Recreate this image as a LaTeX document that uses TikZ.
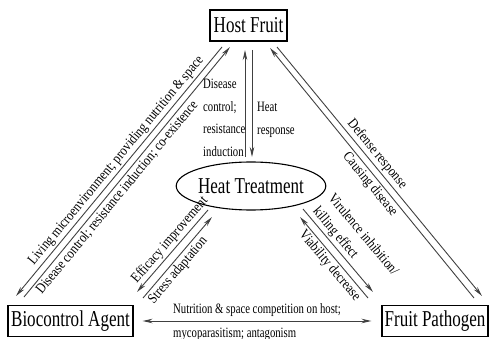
\documentclass[tikz,border=0pt]{standalone}
\usepackage{fontspec}
\setmainfont{Liberation Serif}[FakeStretch=0.75]
\newfontfamily\diagfont{Liberation Serif}[FakeStretch=0.85]
\usetikzlibrary{arrows.meta,shapes.geometric}

\tikzset{
  bigbox/.style={draw, line width=1.1pt, inner sep=0pt, minimum width=#1,
    minimum height=31pt, font=\fontsize{22.7}{27}\selectfont},
  relation/.style={draw=black!75, line width=0.9pt,
    -{Stealth[length=10pt,width=4.5pt]}},
  lbl/.style={font=\diagfont\fontsize{14.3}{20}\selectfont, sloped, inner sep=2pt},
  txt/.style={font=\fontsize{14.3}{22.5}\selectfont, inner sep=0pt}
}

\begin{document}
\begin{tikzpicture}[x=1pt,y=-1pt]
  \useasboundingbox (0,0) rectangle (490,339);

  \node [bigbox=77pt] (host) at (248.5,25.5) {Host Fruit};
  \node [draw, ellipse, line width=1.1pt, minimum width=138pt, minimum height=48pt,
    inner sep=0pt, font=\fontsize{22.7}{27}\selectfont] (heat) at (251,186) {Heat Treatment};
  \node [bigbox=125pt] (bio) at (70.5,321) {Biocontrol Agent};
  \node [bigbox=106pt] (path) at (435,321) {Fruit Pathogen};

  \coordinate (hf-l1) at (222,47);  \coordinate (bc-l1) at (16,296);
  \coordinate (bc-l2) at (24,297);  \coordinate (hf-l2) at (230,47);
  \coordinate (hf-r1) at (270,48);  \coordinate (fp-r1) at (474,298);
  \coordinate (hf-r2) at (277,47);  \coordinate (fp-r2) at (482,296);
  \coordinate (hf-c1) at (245,50);  \coordinate (ht-c1) at (245,157);
  \coordinate (hf-c2) at (252,50);  \coordinate (ht-c2) at (252,157);
  \coordinate (ht-b1) at (208,210); \coordinate (bc-b1) at (137,292);
  \coordinate (bc-b2) at (143,298); \coordinate (ht-b2) at (212,217);
  \coordinate (ht-p1) at (300,217); \coordinate (fp-p1) at (368,298);
  \coordinate (ht-p2) at (303,209); \coordinate (fp-p2) at (373,292);

  \draw [relation] (hf-l1) -- node [lbl, above, pos=0.48]
    {Living microenvironment; providing nutrition \& space} (bc-l1);
  \draw [relation] (bc-l2) -- node [lbl, below, pos=0.42]
    {Disease control; resistance induction; co-existence} (hf-l2);

  \draw [relation] (fp-r1) -- node [lbl, below, pos=0.476] {Causing disease} (hf-r1);
  \draw [relation] (hf-r2) -- node [lbl, above, pos=0.454] {Defense response} (fp-r2);

  \draw [relation] (ht-c1) -- (hf-c1);
  \draw [relation] (hf-c2) -- (ht-c2);

  \draw [relation] (ht-b1) -- node [lbl, above, pos=0.44] {Efficacy improvement} (bc-b1);
  \draw [relation] (bc-b2) -- node [lbl, below, pos=0.41] {Stress adaptation} (ht-b2);

  \draw [relation] (fp-p1) -- node [lbl, below, pos=0.465] {Viability decrease} (ht-p1);
  \draw [relation] (ht-p2) -- node [lbl, above, pos=0.54, align=left]
    {Virulence inhibition/\\killing effect} (fp-p2);

  \draw [relation, {Stealth[length=10pt,width=4.5pt]}-{Stealth[length=10pt,width=4.5pt]},
    shorten <=9pt, shorten >=10pt] (bio) -- (path);

  \node [txt, anchor=north west, align=left] (dclabel) at (203,79)
    {Disease\\control;\\resistance\\induction};
  \node [txt, anchor=north west, align=left] (hrlabel) at (257,102) {Heat\\response};
  \node [txt, anchor=base west] (nslabel) at (173,313) {Nutrition \& space competition on host;};
  \node [txt, anchor=base west] (mplabel) at (173,337) {mycoparasitism; antagonism};
\end{tikzpicture}
\end{document}
